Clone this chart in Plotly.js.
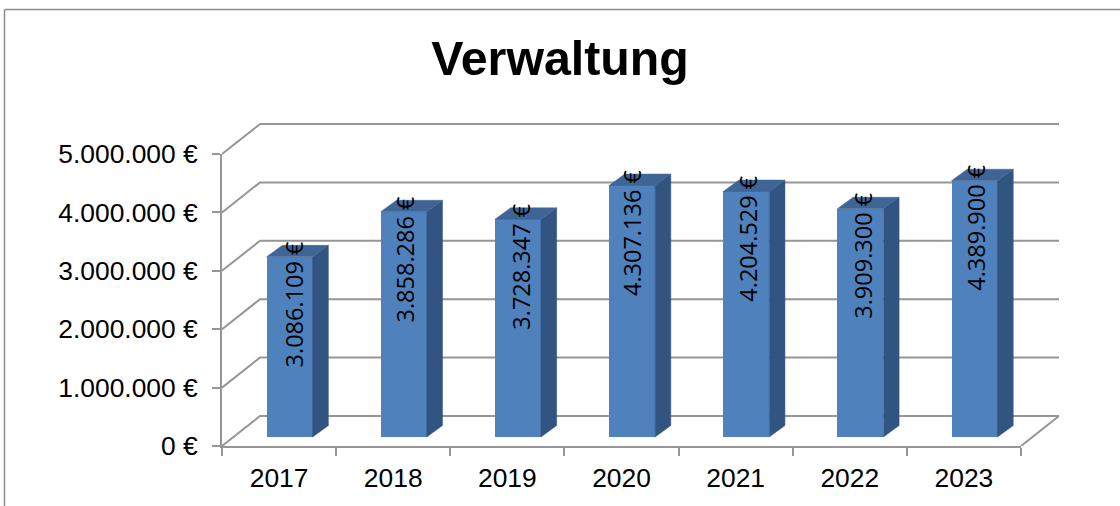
<!DOCTYPE html>
<html><head><meta charset="utf-8">
<script src="https://cdn.plot.ly/plotly-3.0.1.min.js"></script>
<style>html,body{margin:0;padding:0;background:#fff;overflow:hidden}#c{width:1120px;height:506px}</style>
</head><body><div id="c"></div>
<script>
const years = ['2017','2018','2019','2020','2021','2022','2023'];
const values = [3086109,3858286,3728347,4307136,4204529,3909300,4389900];
const valueLabels = ['3.086.109 €','3.858.286 €','3.728.347 €','4.307.136 €','4.204.529 €','3.909.300 €','4.389.900 €'];
const yTicks = [0,1000000,2000000,3000000,4000000,5000000];
const yTickLabels = ['0 €','1.000.000 €','2.000.000 €','3.000.000 €','4.000.000 €','5.000.000 €'];

const W=1120,H=506, L=222,R=1021,T=154,B=446, PR=1064,PT=120;
const pxX=(R-L)/7, pxY=(B-T)/5000000;
const ux=p=>p/pxX, uy=p=>p/pxY;
const wallDX=ux(38), wallDY=uy(30);
const barOffX=ux(10.6), barOffY=uy(9), barW=ux(46), sideDX=ux(15.7), sideDY=uy(11.4);
const gridC='#969696', frontC='#4f81bd', sideC='#325480', topC='#3e6595';
const font='"Liberation Sans",Arial,sans-serif';
const labelNudge=[4,1,3.5,0.5,2,2.7,0.6];
const cols=years.map((_,i)=>i+0.5);
// subplot order: xy = back wall, x2y2 = visible axes, x3y3 = 3D bars
const traces=[{type:'scatter',mode:'lines',x:[0,7],y:[0,5000000],xaxis:'x2',yaxis:'y2',line:{width:0},hoverinfo:'skip',showlegend:false}];
const line=(x,y)=>traces.push({type:'scatter',mode:'lines',x,y,xaxis:'x',yaxis:'y',hoverinfo:'skip',showlegend:false,line:{color:gridC,width:2}});
yTicks.forEach(v=>line([0,wallDX,7+wallDX],[v,v+wallDY,v+wallDY]));
line([7,7+wallDX],[0,wallDY]);
const poly=(x,y,c)=>traces.push({type:'scatter',mode:'lines',x,y,xaxis:'x3',yaxis:'y3',fill:'toself',fillcolor:c,hoverinfo:'skip',showlegend:false,line:{color:c,width:0.5}});
cols.forEach((c,i)=>{
  const x0=c+barOffX-barW/2, x1=c+barOffX+barW/2, b=barOffY, t=values[i]+barOffY;
  poly([x1,x1+sideDX,x1+sideDX,x1,x1],[b,b+sideDY,t+sideDY,t,b],sideC);
  poly([x0,x1,x1+sideDX,x0+sideDX,x0],[t,t,t+sideDY,t+sideDY,t],topC);
});
traces.push({type:'bar',x:cols.map(c=>c+barOffX),y:values,base:barOffY,width:barW,xaxis:'x3',yaxis:'y3',
  marker:{color:frontC,line:{width:0}},hoverinfo:'skip',showlegend:false});
const annotations=cols.map((c,i)=>({x:c+barOffX,y:values[i]+barOffY,xref:'x3',yref:'y3',yshift:-47,xshift:labelNudge[i],showarrow:false,
  text:valueLabels[i],textangle:-90,font:{family:'"Open Sans",sans-serif',size:23.5,color:'#000'}}));
const fx=p=>(p-L)/(PR-L), fy=p=>(B-p)/(B-PT);
const frame={color:'#8c8c8c',width:1.5};
const hiddenX={domain:[0,1],range:[0,ux(PR-L)],visible:false};
const hiddenY={domain:[0,1],range:[0,uy(B-PT)],visible:false};
const layout={width:W,height:H,autosize:false,showlegend:false,paper_bgcolor:'#fff',plot_bgcolor:'rgba(0,0,0,0)',
  margin:{l:L,r:W-PR,t:PT,b:H-B},bargap:0,
  title:{text:'<b>Verwaltung</b>',x:0.5,y:1-58/H,xref:'container',yref:'container',xanchor:'center',yanchor:'middle',
    font:{family:font,size:48.3,color:'#000'}},
  xaxis:{...hiddenX,anchor:'y'},
  yaxis:{...hiddenY,anchor:'x'},
  xaxis2:{anchor:'y2',domain:[0,(R-L)/(PR-L)],range:[0,7],tickmode:'array',tickvals:cols,ticktext:years,ticks:'',showgrid:false,zeroline:false,showline:true,linecolor:gridC,linewidth:2,
    tickfont:{family:font,size:26.4,color:'#000'},ticklabelstandoff:7,
    minor:{ticks:'outside',tick0:0,dtick:1,ticklen:8,tickcolor:gridC,tickwidth:2,showgrid:false}},
  yaxis2:{anchor:'x2',domain:[0,(B-T)/(B-PT)],range:[0,5000000],tickmode:'array',tickvals:yTicks,ticktext:yTickLabels,ticks:'outside',ticklen:8,tickcolor:gridC,tickwidth:2,showgrid:false,zeroline:false,showline:true,linecolor:gridC,linewidth:2,
    tickfont:{family:font,size:26.4,color:'#000'},ticklabelstandoff:9},
  xaxis3:{...hiddenX,anchor:'y3'},
  yaxis3:{...hiddenY,anchor:'x3'},
  annotations,
  shapes:[
   {type:'line',xref:'paper',yref:'paper',x0:fx(4.5),x1:fx(1120),y0:fy(9.5),y1:fy(9.5),line:frame},
   {type:'line',xref:'paper',yref:'paper',x0:fx(4.5),x1:fx(4.5),y0:fy(9.5),y1:fy(506),line:frame}
  ]
};
Plotly.newPlot('c',traces,layout,{displayModeBar:false,staticPlot:true});
</script></body></html>
